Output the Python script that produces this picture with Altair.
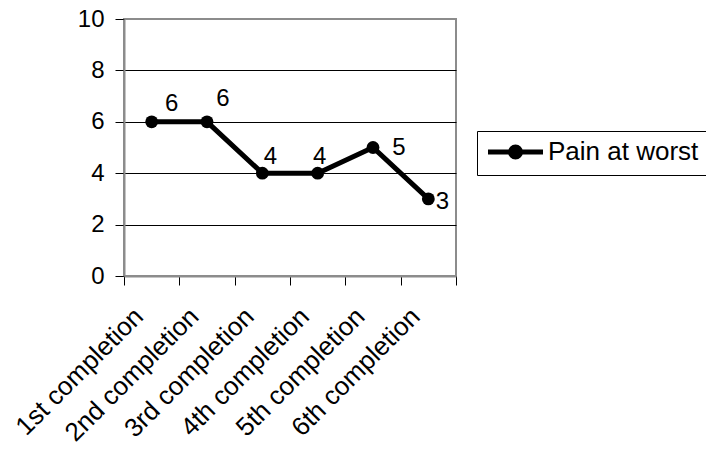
import altair as alt
import pandas as pd

# ---- data ----
categories = ["1st completion", "2nd completion", "3rd completion",
              "4th completion", "5th completion", "6th completion"]
pain_at_worst = [6, 6, 4, 4, 5, 3]
series_name = "Pain at worst"
y_ticks = [0, 2, 4, 6, 8, 10]

# label nudges (style only): (dx, dy) per data label
label_nudges = [(20, -18), (16, -23), (8, -16), (2, -16), (26, 0), (14, 3)]

df = pd.DataFrame({
    "completion": categories,
    "value": pain_at_worst,
    "series": [series_name] * len(categories),
    "idx": list(range(len(categories))),
})

FONT = "Liberation Sans"

x_enc = alt.X(
    "completion:N",
    sort=categories,
    bandPosition=0.5,
    scale=alt.Scale(type="band", paddingInner=0, paddingOuter=0),
    axis=alt.Axis(
        title=None, labelAngle=-45, labelAlign="right", labelBaseline="middle",
        labelOffset=-13, labelPadding=27, tickBand="extent", tickSize=9,
        tickColor="black", tickWidth=1, domainColor="#8c8c8c", domainWidth=2,
        labelFontSize=26, labelFont=FONT, labelColor="black", grid=False,
    ),
)
y_enc = alt.Y(
    "value:Q",
    scale=alt.Scale(domain=[0, 10]),
    axis=alt.Axis(
        title=None, values=y_ticks, grid=True,
        gridColor={"condition": {"test": "datum.value == 0 || datum.value == 10",
                                 "value": "transparent"}, "value": "black"},
        gridWidth=1, tickSize=9, tickColor="black", labelPadding=11,
        domainColor="#8c8c8c", domainWidth=2,
        labelFontSize=24, labelFont=FONT, labelColor="black",
    ),
)

# legend symbol: a line with a dot, in units of sqrt(size)/2 = 10 px
legend_path = ("M-1,0L4.5,0M2.25,0A0.5,0.5,0,1,1,1.25,0"
               "A0.5,0.5,0,1,1,2.25,0Z")

base = alt.Chart(df)

line = base.mark_line(strokeWidth=5).encode(
    x=x_enc, y=y_enc,
    color=alt.Color(
        "series:N",
        scale=alt.Scale(range=["black"]),
        legend=alt.Legend(
            title=None, orient="none", legendX=353, legendY=112,
            symbolType=legend_path, symbolSize=400, symbolStrokeWidth=5,
            symbolFillColor="black", symbolStrokeColor="black",
            labelFontSize=26, labelFont=FONT, labelColor="black", labelOffset=37,
            strokeColor="black", fillColor="white", padding=8,
        ),
    ),
)

points = base.mark_point(filled=True, size=165, opacity=1, color="black").encode(
    x=x_enc, y=y_enc,
)

labels = []
for i, (dx, dy) in enumerate(label_nudges):
    labels.append(
        base.transform_filter(alt.datum.idx == i)
        .mark_text(dx=dx, dy=dy, fontSize=24, font=FONT, color="black",
                   align="center", baseline="middle")
        .encode(x=x_enc, y=y_enc, text=alt.Text("value:Q"))
    )

chart = alt.layer(line, points, *labels).properties(
    width=332, height=257,
    padding={"left": 124, "top": 19, "right": 250, "bottom": 174},
    autosize="none",
    background="white",
).configure_view(stroke="#8c8c8c", strokeWidth=2)

chart.save("out.html", embed_options={"renderer": "svg", "actions": False})
